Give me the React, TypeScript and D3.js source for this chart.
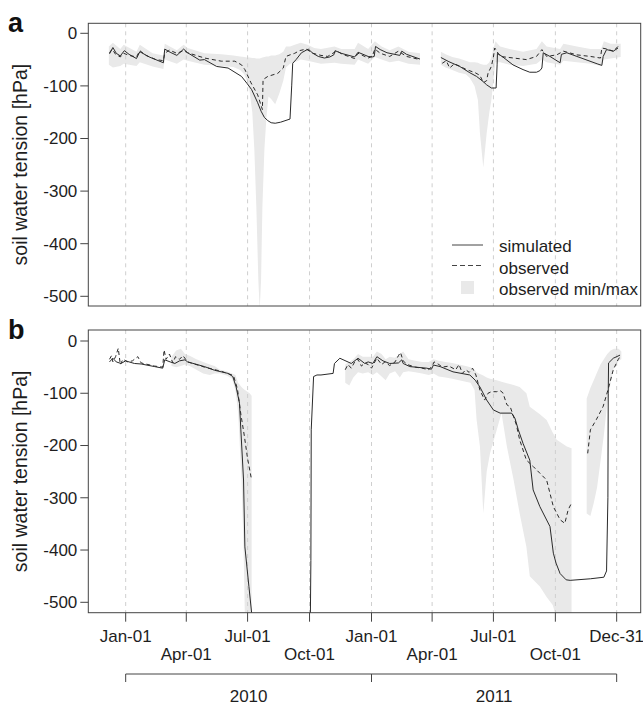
import React from "react";
import * as d3 from "d3";

type P = [number, number];
type B = [number, number, number];

// x values: days since 2010-01-01; y values: soil water tension [hPa]
const simA_2010: P[] = [[-24,-39],[-19,-27],[-14,-38],[-8,-43],[-2,-33],[5,-40],[16,-48],[21,-35],[35,-45],[56,-56],[58,-30],[66,-36],[76,-42],[86,-30],[92,-37],[110,-51],[117,-50],[135,-63],[152,-66],[172,-82],[180,-95],[187,-107],[196,-132],[201,-148],[206,-160],[211,-166],[216,-170],[222,-171],[230,-169],[244,-163],[246.5,-100],[248,-57],[253,-50],[261,-37],[271,-30],[278,-38],[286,-44],[295,-47],[303,-45],[309,-41],[311,-33],[320,-38],[340,-45],[345,-36],[360,-44],[366,-45],[369,-44],[371,-25],[378,-31],[388,-37],[407,-42],[410,-34],[417,-40],[437,-49]];
const simA_2011: P[] = [[468,-46],[480,-54],[496,-63],[511,-75],[521,-82],[531,-92],[536,-98],[543,-104],[550,-104],[551.5,-60],[552,-38],[560,-45],[575,-60],[590,-69],[600,-74],[610,-74],[615,-71],[618,-66],[620,-37],[630,-44],[645,-56],[647,-40],[655,-37],[670,-44],[685,-51],[700,-58],[707,-61],[709,-44],[714,-31],[724,-34],[731,-28]];
const obsA_2010: P[] = [[-24,-37],[-20,-30],[-15,-40],[-8,-45],[-3,-38],[5,-42],[16,-45],[21,-33],[30,-42],[45,-50],[56,-52],[58,-38],[65,-32],[76,-38],[86,-33],[92,-37],[117,-47],[142,-53],[162,-53],[172,-60],[177,-69],[186,-94],[196,-117],[203,-145],[204,-88],[211,-82],[226,-76],[234,-66],[238,-44],[244,-41],[251,-38],[258,-33],[268,-30],[278,-38],[290,-42],[300,-44],[310,-36],[314,-34],[322,-40],[340,-48],[345,-38],[360,-47],[366,-44],[370,-30],[378,-38],[392,-44],[405,-34],[417,-44],[437,-50]];
const obsA_2011: P[] = [[470,-57],[476,-52],[481,-66],[488,-58],[495,-62],[506,-69],[519,-75],[526,-80],[531,-94],[536,-90],[538,-76],[543,-63],[546,-45],[548,-28],[556,-44],[576,-47],[595,-50],[610,-44],[618,-31],[625,-44],[640,-41],[650,-34],[670,-41],[690,-44],[705,-47],[707,-28],[715,-30],[724,-34],[731,-25]];
const bandA_2010: B[] = [[-25,-60,-25],[-19,-65,-18],[-8,-62,-30],[-3,-58,-22],[16,-62,-35],[21,-55,-22],[40,-63,-38],[56,-68,-42],[58,-50,-20],[76,-58,-32],[86,-50,-22],[92,-52,-28],[117,-60,-38],[142,-62,-40],[160,-64,-42],[170,-70,-44],[176,-78,-45],[180,-90,-46],[184,-110,-46],[188,-150,-47],[191,-220,-47],[194,-330,-48],[197,-470,-48],[199,-525,-48],[201,-470,-47],[203,-330,-46],[206,-220,-45],[209,-160,-44],[212,-120,-44],[216,-125,-42],[222,-135,-42],[228,-115,-40],[234,-90,-35],[238,-65,-25],[244,-58,-25],[251,-55,-22],[260,-50,-18],[270,-52,-22],[280,-55,-28],[290,-58,-30],[310,-56,-25],[320,-58,-30],[340,-60,-30],[345,-50,-18],[360,-58,-30],[370,-45,-15],[380,-50,-25],[392,-55,-32],[405,-52,-25],[420,-58,-35],[437,-60,-38]];
const bandA_2011: B[] = [[468,-60,-35],[475,-65,-40],[485,-70,-45],[495,-75,-48],[505,-78,-52],[511,-85,-55],[518,-100,-55],[523,-127,-56],[526,-190,-58],[531,-255,-60],[536,-190,-60],[540,-150,-55],[543,-127,-45],[546,-90,-30],[549,-55,-15],[556,-55,-25],[570,-60,-30],[590,-62,-35],[610,-58,-30],[618,-50,-15],[625,-55,-25],[645,-60,-30],[650,-52,-20],[670,-55,-25],[690,-58,-30],[706,-62,-30],[710,-50,-15],[720,-48,-20],[735,-45,-20]];

const simB: P[] = [[-24,-40],[-19,-33],[-14,-40],[-7,-43],[0,-38],[5,-40],[13,-43],[23,-44],[43,-49],[55,-52],[58,-36],[66,-40],[73,-43],[80,-38],[88,-36],[92,-40],[117,-49],[132,-56],[142,-59],[152,-62],[159,-68],[164,-88],[169,-119],[171,-170],[175,-266],[177,-394],[183,-470],[187,-520],[189,-560],[274,-560],[275,-420],[275.5,-170],[279,-68],[284,-65],[290,-65],[308,-62],[310,-43],[318,-33],[335,-43],[345,-33],[355,-43],[360,-40],[367,-43],[373,-30],[382,-38],[392,-43],[405,-42],[410,-36],[412,-43],[422,-49],[447,-52],[454,-54],[457,-46],[467,-49],[486,-59],[511,-65],[519,-75],[526,-88],[536,-113],[546,-132],[556,-138],[573,-138],[578,-148],[583,-170],[590,-196],[600,-228],[605,-285],[615,-317],[630,-355],[635,-406],[639,-425],[645,-445],[654,-457],[660,-458],[690,-455],[710,-452],[714,-440],[716,-300],[716.5,-100],[717,-42],[724,-33],[734,-27]];
const obsB_2010: P[] = [[-24,-35],[-21,-28],[-19,-40],[-15,-30],[-11,-14],[-8,-45],[-4,-35],[3,-40],[10,-38],[18,-30],[23,-42],[43,-48],[55,-50],[57,-17],[60,-35],[65,-25],[70,-42],[74,-30],[80,-35],[85,-28],[92,-40],[117,-50],[142,-58],[160,-66],[166,-92],[171,-140],[176,-180],[181,-225],[187,-266]];
const obsB_2011: P[] = [[326,-55],[330,-45],[335,-52],[340,-40],[345,-35],[350,-48],[355,-42],[360,-45],[365,-52],[370,-40],[373,-33],[380,-45],[385,-40],[392,-47],[400,-40],[405,-28],[408,-22],[412,-38],[418,-45],[430,-50],[440,-52],[450,-55],[455,-48],[458,-40],[465,-45],[470,-50],[480,-48],[490,-55],[495,-45],[500,-62],[505,-55],[510,-60],[515,-52],[520,-65],[526,-94],[533,-113],[538,-100],[543,-97],[551,-97],[556,-95],[560,-99],[566,-122],[571,-126],[580,-160],[585,-189],[595,-228],[605,-240],[615,-253],[625,-266],[635,-317],[645,-342],[652,-349],[657,-323],[662,-310]];
const obsB_late: P[] = [[686,-215],[690,-170],[699,-150],[709,-125],[716,-94],[724,-55],[731,-36],[735,-28]];
const bandB_2010: B[] = [[68,-48,-30],[75,-50,-18],[82,-48,-15],[88,-45,-25],[95,-48,-28],[105,-55,-35],[115,-62,-40],[125,-65,-45],[132,-62,-48],[140,-62,-55],[150,-66,-58],[158,-72,-62],[163,-95,-65],[167,-138,-80],[172,-266,-88],[175,-394,-92],[177,-530,-94],[184,-530,-100],[187,-530,-105]];
const bandB_2011: B[] = [[326,-80,-45],[332,-85,-40],[338,-70,-35],[345,-60,-25],[352,-62,-30],[360,-60,-30],[367,-65,-30],[373,-60,-20],[380,-68,-25],[386,-75,-35],[392,-62,-30],[400,-58,-32],[407,-70,-25],[412,-60,-20],[420,-58,-35],[430,-60,-38],[440,-62,-40],[450,-65,-40],[457,-62,-35],[465,-68,-38],[475,-70,-40],[485,-72,-42],[495,-75,-45],[505,-78,-48],[512,-80,-50],[518,-94,-55],[521,-150,-60],[526,-202,-63],[531,-330,-66],[536,-250,-70],[541,-215,-72],[551,-170,-75],[558,-138,-78],[566,-202,-81],[576,-266,-84],[585,-330,-88],[595,-394,-100],[600,-450,-126],[615,-470,-140],[625,-490,-151],[634,-505,-175],[640,-530,-189],[655,-530,-202],[662,-530,-205]];
const bandB_late: B[] = [[684.5,-330,-110],[690,-335,-90],[695,-310,-75],[700,-280,-60],[705,-230,-45],[710,-180,-35],[715,-120,-25],[720,-80,-18],[725,-50,-15],[732,-38,-15],[736,-35,-20]];

const yTicks = [0, -100, -200, -300, -400, -500];
const dateTicks = ["2010-01-01","2010-04-01","2010-07-01","2010-10-01","2011-01-01","2011-04-01","2011-07-01","2011-10-01","2011-12-31"];
const yearBounds = ["2010-01-01","2011-01-01","2011-12-31"];
const yearLabels = ["2010","2011"];
const legendLabels = ["simulated","observed","observed min/max"];

const parse = d3.timeParse("%Y-%m-%d");
const fmt = d3.timeFormat("%b-%d");
const base = new Date(2010, 0, 1).getTime();
const toDate = (d: number) => new Date(base + d * 86400000);

const FONT = "'Liberation Sans', Arial, Helvetica, sans-serif";
const TXT = "#1e1e1e";
const BAND = "#e9e9e9";
const LINE = "#2a2a2a";

const L = 88.3, R = 640.7;
const x = d3.scaleTime().domain([toDate(-55.5), toDate(764.7)]).range([L, R]);

interface PanelProps {
  id: string; label: string; top: number; bottom: number; yScale: d3.ScaleLinear<number, number>;
  sims: P[][]; obs: P[][]; bands: B[][]; legend?: boolean;
}

function Panel({ id, label, top, bottom, yScale, sims, obs, bands, legend }: PanelProps) {
  const line = d3.line<P>().x(d => x(toDate(d[0]))).y(d => yScale(d[1]));
  const area = d3.area<B>().x(d => x(toDate(d[0]))).y0(d => yScale(d[1])).y1(d => yScale(d[2]));
  const mid = (top + bottom) / 2;
  return (
    <g>
      <defs>
        <clipPath id={"clip-" + id}>
          <rect x={L} y={top} width={R - L} height={bottom - top} />
        </clipPath>
      </defs>
      <g clipPath={`url(#clip-${id})`}>
        {bands.map((b, i) => <path key={"b" + i} d={area(b) || ""} fill={BAND} stroke="none" />)}
        {dateTicks.map((t, i) => (
          <line key={"g" + i} x1={x(parse(t)!)} x2={x(parse(t)!)} y1={top} y2={bottom}
            stroke="#cfcfcf" strokeWidth={1} strokeDasharray="4,4" />
        ))}
        {sims.map((s, i) => <path key={"s" + i} d={line(s) || ""} fill="none" stroke={LINE} strokeWidth={1} />)}
        {obs.map((s, i) => <path key={"o" + i} d={line(s) || ""} fill="none" stroke={LINE} strokeWidth={1} strokeDasharray="4,3" />)}
      </g>
      <rect x={L} y={top} width={R - L} height={bottom - top} fill="none" stroke="#444" strokeWidth={1} />
      {yTicks.map(t => (
        <g key={"y" + t}>
          <line x1={L - 8} x2={L} y1={yScale(t)} y2={yScale(t)} stroke="#444" strokeWidth={1} />
          <text x={L - 11} y={yScale(t)} dy="0.35em" textAnchor="end" fontSize={17} fill={TXT} fontFamily={FONT}>{t}</text>
        </g>
      ))}
      <text transform={`translate(20,${mid}) rotate(-90)`} textAnchor="middle" dy="0.35em" fontSize={19.5} fill={TXT} fontFamily={FONT}>soil water tension [hPa]</text>
      <text x={8} y={top + 8.5} fontSize={27} fontWeight="bold" fill="#111" fontFamily={FONT}>{label}</text>
      {legend && (
        <g fontFamily={FONT} fontSize={17} fill={TXT}>
          <line x1={452} x2={483} y1={245} y2={245} stroke="#444" strokeWidth={1} />
          <line x1={452} x2={483} y1={265.5} y2={265.5} stroke="#444" strokeWidth={1} strokeDasharray="5,3" />
          <rect x={461} y={281} width={13} height={13} fill={BAND} />
          {legendLabels.map((s, i) => (
            <text key={s} x={499} y={252 + i * 21.5}>{s}</text>
          ))}
        </g>
      )}
    </g>
  );
}

export default function App() {
  const yA = d3.scaleLinear().domain([-500, 0]).range([296.3, 33.3]);
  const yB = d3.scaleLinear().domain([-500, 0]).range([602.3, 341]);
  const bBottom = 612.7;
  return (
    <svg width={643} height={708} style={{ position: "absolute", left: 0, top: 0, background: "#fff" }}>
      <rect x={0} y={0} width={643} height={708} fill="#fff" />
      <Panel id="a" label="a" top={23.3} bottom={306} yScale={yA}
        sims={[simA_2010, simA_2011]} obs={[obsA_2010, obsA_2011]} bands={[bandA_2010, bandA_2011]} legend />
      <Panel id="b" label="b" top={330} bottom={bBottom} yScale={yB}
        sims={[simB]} obs={[obsB_2010, obsB_2011, obsB_late]} bands={[bandB_2010, bandB_2011, bandB_late]} />
      {dateTicks.map((t, i) => {
        const px = x(parse(t)!);
        return (
          <g key={"xt" + i}>
            <line x1={px} x2={px} y1={bBottom} y2={bBottom + 9} stroke="#444" strokeWidth={1} />
            <text x={px} y={i % 2 === 0 ? 641.5 : 660} textAnchor="middle" fontSize={17} fill={TXT} fontFamily={FONT}>{fmt(parse(t)!)}</text>
          </g>
        );
      })}
      <line x1={x(parse(yearBounds[0])!)} x2={x(parse(yearBounds[2])!)} y1={674} y2={674} stroke="#444" strokeWidth={1} />
      {yearBounds.map((t, i) => (
        <line key={"yb" + i} x1={x(parse(t)!)} x2={x(parse(t)!)} y1={674} y2={682} stroke="#444" strokeWidth={1} />
      ))}
      {yearLabels.map((s, i) => {
        const a = x(parse(yearBounds[i])!), b = x(parse(yearBounds[i + 1])!);
        return <text key={s} x={(a + b) / 2} y={702} textAnchor="middle" fontSize={17} fill={TXT} fontFamily={FONT}>{s}</text>;
      })}
    </svg>
  );
}
